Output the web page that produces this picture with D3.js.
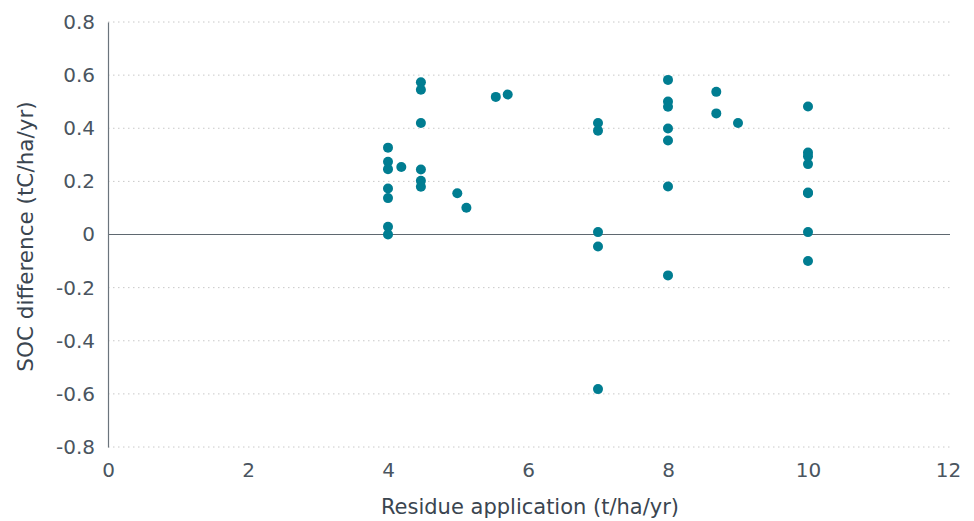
<!DOCTYPE html>
<html>
<head>
<meta charset="utf-8">
<script src="https://cdn.jsdelivr.net/npm/d3@7"></script>
<style>
  body { margin: 0; background: #fff; }
  text { font-family: "DejaVu Sans", sans-serif; }
</style>
</head>
<body>
<svg class="chart"></svg>
<script>
// Residue application (t/ha/yr) and SOC difference (tC/ha/yr)
const residue = [4, 4, 4, 4, 4, 4, 4, 4.19, 4.47, 4.47, 4.47, 4.47, 4.47, 4.47, 4.99, 5.12, 5.54, 5.71,
  7, 7, 7, 7, 7, 8, 8, 8, 8, 8, 8, 8, 8.69, 8.69, 9, 10, 10, 10, 10, 10, 10, 10, 10];
const socDiff = [0.327, 0.274, 0.246, 0.173, 0.137, 0.029, 0.0, 0.254, 0.573, 0.545, 0.42, 0.245, 0.202, 0.18, 0.155, 0.101, 0.518, 0.527,
  0.42, 0.391, 0.009, -0.045, -0.582, 0.582, 0.501, 0.481, 0.399, 0.354, 0.181, -0.154, 0.537, 0.456, 0.42,
  0.482, 0.309, 0.295, 0.265, 0.155, 0.158, 0.009, -0.1];
const xTicks = [0, 2, 4, 6, 8, 10, 12];
const yTicks = [-0.8, -0.6, -0.4, -0.2, 0, 0.2, 0.4, 0.6, 0.8];

const svgWidth = 974;
const svgHeight = 521;
const margin = { top: 22, right: 24, bottom: 74, left: 108 };
const chartWidth = svgWidth - margin.left - margin.right;
const chartHeight = svgHeight - margin.top - margin.bottom;

const svg = d3.select('.chart')
  .attr('width', svgWidth)
  .attr('height', svgHeight);

const chart = svg.append('g')
  .attr('transform', 'translate(' + margin.left + ',' + margin.top + ')');

const xScale = d3.scaleLinear().domain([0, 12]).range([0, 840]);
const yScale = d3.scaleLinear().domain([-0.8, 0.8]).range([chartHeight, 0]);

// dotted gridlines
chart.append('g')
  .selectAll('line')
  .data(yTicks.filter(d => d !== 0))
  .enter()
  .append('line')
  .attr('x1', 0)
  .attr('x2', xScale(12) + 2)
  .attr('y1', d => yScale(d))
  .attr('y2', d => yScale(d))
  .attr('stroke', '#c8c8c8')
  .attr('stroke-width', 1)
  .attr('stroke-dasharray', '1.5 3.5');

// zero line
chart.append('line')
  .attr('x1', 0)
  .attr('x2', xScale(12) + 2)
  .attr('y1', yScale(0))
  .attr('y2', yScale(0))
  .attr('stroke', '#5f6870')
  .attr('stroke-width', 1.2);

// y axis
const yAxisGroup = chart.append('g')
  .call(d3.axisLeft(yScale).tickValues(yTicks).tickSize(0).tickPadding(13)
    .tickFormat(d => d === 0 ? '0' : d3.format('.1f')(d).replace('−', '-')));
yAxisGroup.select('.domain').attr('stroke', '#6b747c').attr('stroke-width', 1.2);
yAxisGroup.selectAll('text')
  .attr('fill', '#4a5560')
  .attr('font-size', '20px');

// x axis labels (no line)
const xAxisGroup = chart.append('g')
  .attr('transform', 'translate(0,' + chartHeight + ')')
  .call(d3.axisBottom(xScale).tickValues(xTicks).tickSize(0).tickPadding(16));
xAxisGroup.select('.domain').remove();
xAxisGroup.selectAll('text')
  .attr('fill', '#4a5560')
  .attr('font-size', '20px');

// axis titles
svg.append('text')
  .attr('x', margin.left + xScale(6) + 2)
  .attr('y', 514)
  .attr('fill', '#3a4550')
  .attr('text-anchor', 'middle')
  .attr('font-size', '21px')
  .text('Residue application (t/ha/yr)');

svg.append('text')
  .attr('transform', 'rotate(-90)')
  .attr('x', -(margin.top + yScale(0) + 2))
  .attr('y', 33)
  .attr('fill', '#3a4550')
  .attr('text-anchor', 'middle')
  .attr('font-size', '21.5px')
  .text('SOC difference (tC/ha/yr)');

// points
chart.append('g')
  .selectAll('circle')
  .data(residue.map((r, i) => ({ x: r, y: socDiff[i] })))
  .enter()
  .append('circle')
  .attr('cx', d => xScale(d.x))
  .attr('cy', d => yScale(d.y))
  .attr('r', 5)
  .attr('fill', '#007d91');
</script>
</body>
</html>
